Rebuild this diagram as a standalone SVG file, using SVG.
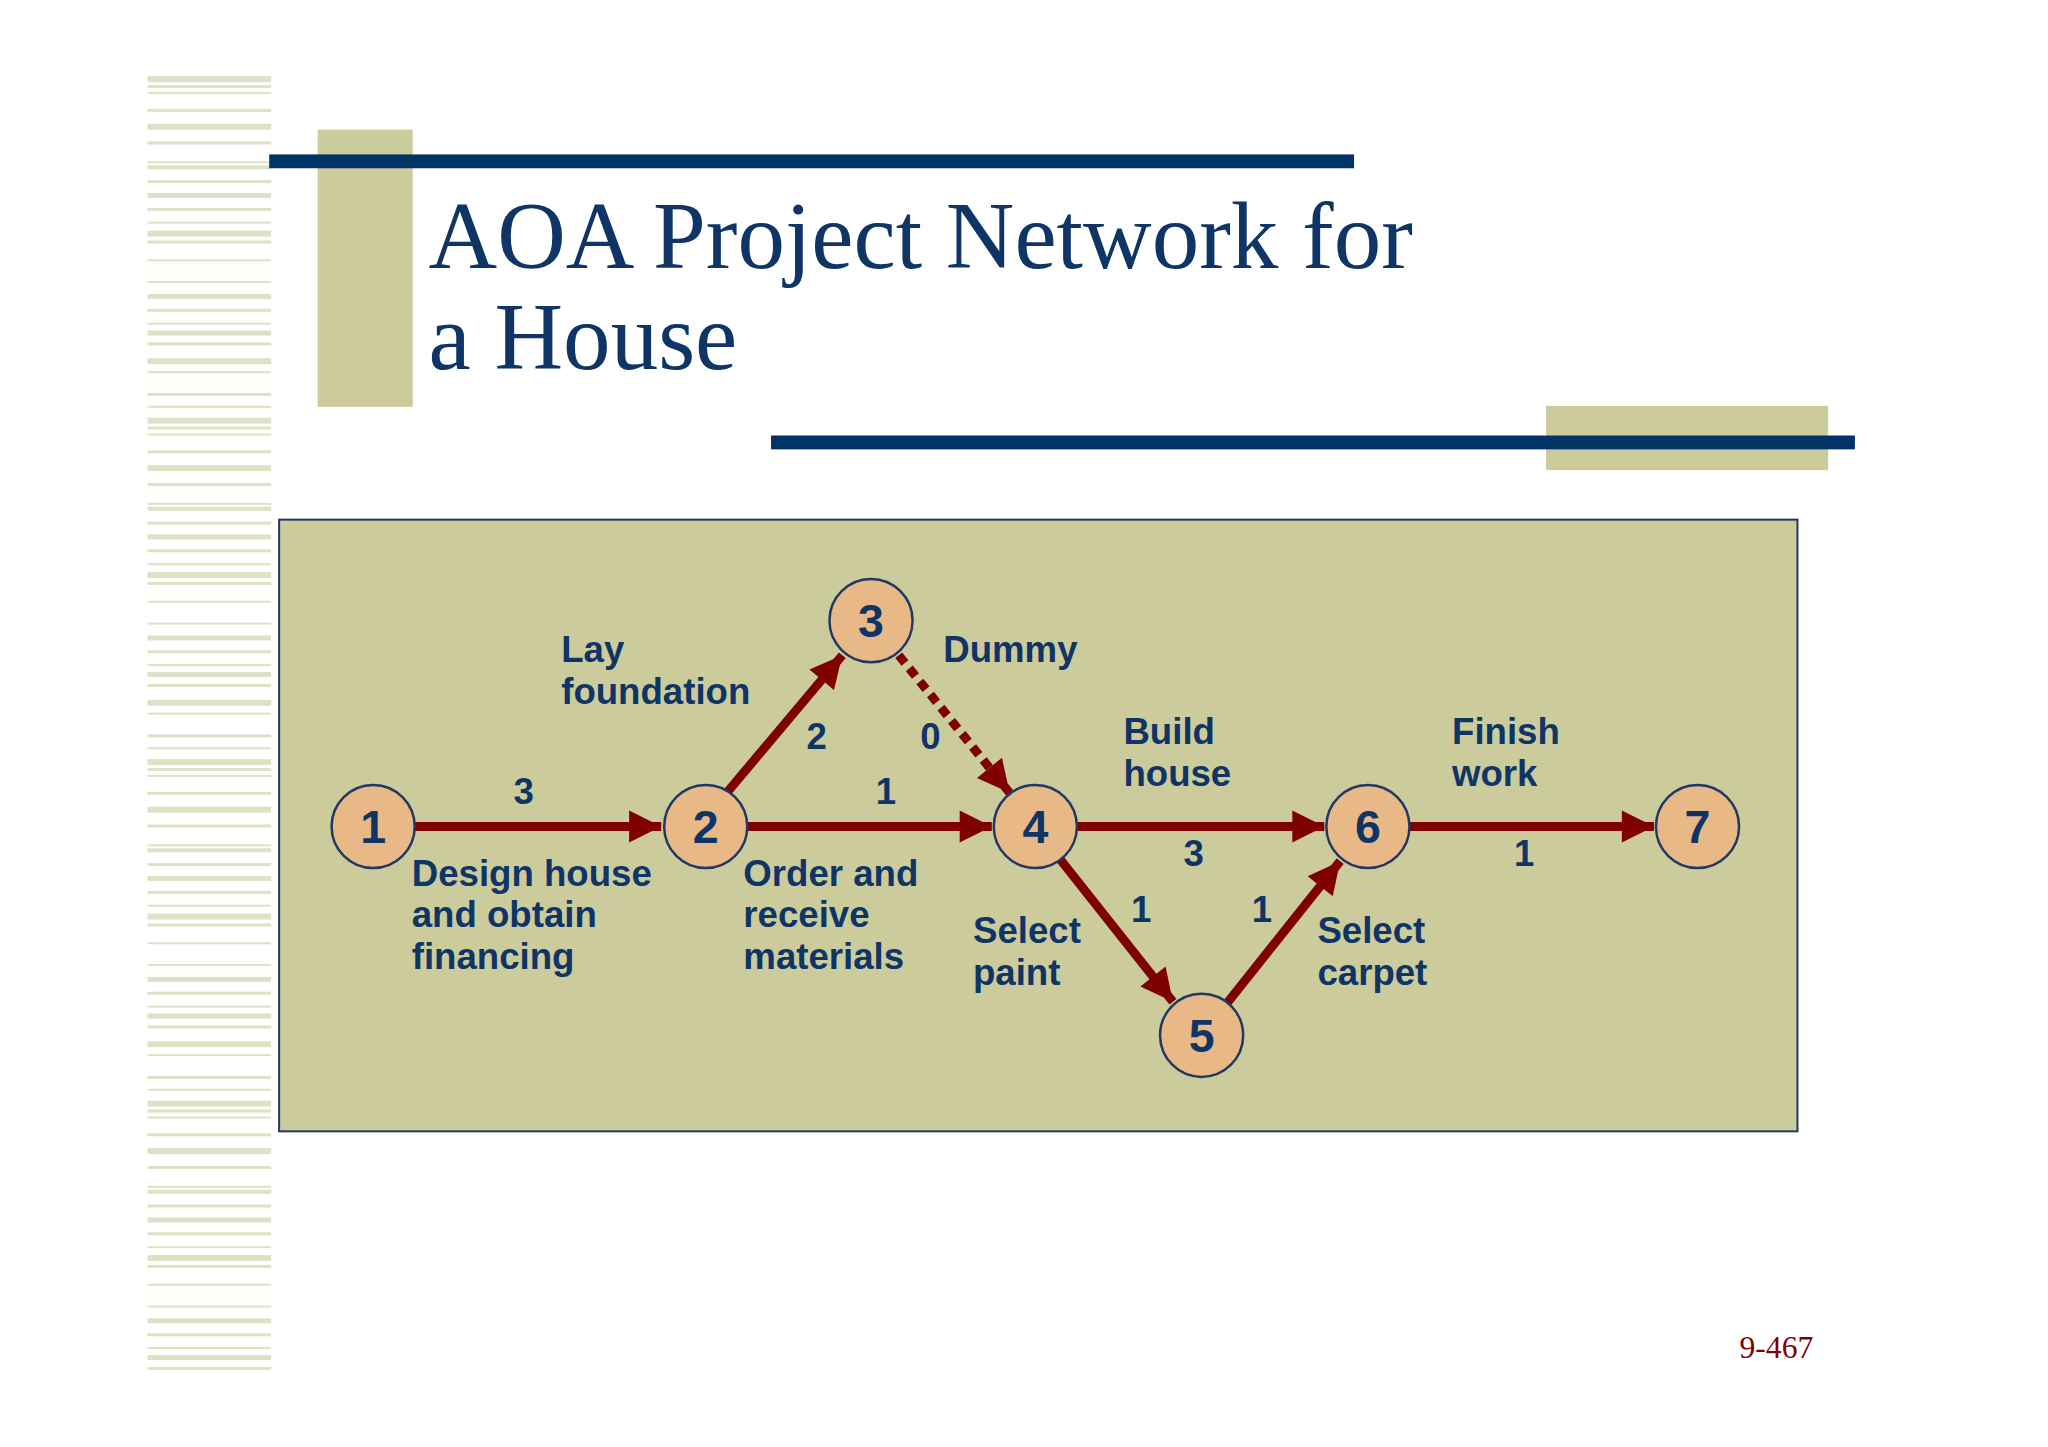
<svg xmlns="http://www.w3.org/2000/svg" width="2048" height="1447" viewBox="0 0 2048 1447">
<defs>
<style>
.lbl{font-family:"Liberation Sans",Arial,sans-serif;font-weight:bold;font-size:37px;fill:#0f3566}
.num{font-family:"Liberation Sans",Arial,sans-serif;font-weight:bold;font-size:47px;fill:#0f3566;text-anchor:middle}
.node circle{fill:#e8b887;stroke:#1f3864;stroke-width:2.5}
.edge{stroke:#7f0000;stroke-width:9;fill:none}
.stripe{fill:#dfe0c4}
</style>
<marker id="ah" viewBox="0 0 10 10" refX="10" refY="5" markerWidth="3.8" markerHeight="3.6" orient="auto" markerUnits="strokeWidth">
<path d="M0,0 L10,5 L0,10 z" fill="#7f0000"/>
</marker>
<g id="sp">
<rect class="stripe" x="149" y="77" width="125" height="6"/><rect class="stripe" x="149" y="86" width="125" height="3"/><rect class="stripe" x="149" y="93" width="125" height="2"/>
<rect class="stripe" x="149" y="110" width="125" height="3"/><rect class="stripe" x="149" y="125" width="125" height="6"/><rect class="stripe" x="149" y="143" width="125" height="3"/>
<rect class="stripe" x="149" y="163" width="125" height="2"/><rect class="stripe" x="149" y="167" width="125" height="4"/><rect class="stripe" x="149" y="182" width="125" height="3"/>
<rect class="stripe" x="149" y="195" width="125" height="5"/><rect class="stripe" x="149" y="210" width="125" height="3"/><rect class="stripe" x="149" y="224" width="125" height="2"/>
<rect class="stripe" x="149" y="233" width="125" height="6"/><rect class="stripe" x="149" y="243" width="125" height="3"/><rect class="stripe" x="149" y="262" width="125" height="2"/>
<rect class="stripe" x="149" y="284" width="125" height="2"/><rect class="stripe" x="149" y="297" width="125" height="5"/><rect class="stripe" x="149" y="312" width="125" height="3"/>
<rect class="stripe" x="149" y="326" width="125" height="2"/><rect class="stripe" x="149" y="334" width="125" height="5"/><rect class="stripe" x="149" y="346" width="125" height="3"/>
<rect class="stripe" x="149" y="362" width="125" height="6"/><rect class="stripe" x="149" y="375" width="125" height="2"/><rect class="stripe" x="149" y="397" width="125" height="3"/>
<rect class="stripe" x="149" y="410" width="125" height="2"/>
</g>
</defs>
<rect width="2048" height="1447" fill="#ffffff"/>
<g transform="scale(0.9898)">
<g id="stripes">
<use href="#sp"/>
<use href="#sp" transform="translate(0,345)"/>
<use href="#sp" transform="translate(0,690)"/>
<use href="#sp" transform="translate(0,1035)" clip-path="none"/>
</g>
<rect x="140" y="1395" width="140" height="60" fill="#ffffff"/>
<g id="title">
<rect x="321" y="131" width="96" height="280" fill="#cccb9b"/>
<rect x="272" y="156" width="1096" height="14" fill="#003366"/>
<rect x="1562" y="410" width="285" height="65" fill="#cccb9b"/>
<rect x="779" y="440" width="1095" height="14" fill="#003366"/>
<text x="433" y="271" font-family="'Liberation Serif','Times New Roman',serif" font-size="96" fill="#0f3566">AOA Project Network for</text>
<text x="433" y="373" font-family="'Liberation Serif','Times New Roman',serif" font-size="96" fill="#0f3566">a House</text>
</g>
<rect id="panel" x="282" y="525" width="1534" height="618" fill="#cccb9b" stroke="#1f3864" stroke-width="2"/>
<g id="connectors">
<line class="edge" x1="419" y1="835" x2="668" y2="835" marker-end="url(#ah)"/>
<line class="edge" x1="735" y1="800" x2="851" y2="662" marker-end="url(#ah)"/>
<line class="edge" x1="755" y1="835" x2="1002" y2="835" marker-end="url(#ah)"/>
<line class="edge" x1="908" y1="662" x2="1020" y2="801" marker-end="url(#ah)" stroke-dasharray="10,7"/>
<line class="edge" x1="1088" y1="835" x2="1338" y2="835" marker-end="url(#ah)"/>
<line class="edge" x1="1071" y1="868" x2="1185" y2="1012" marker-end="url(#ah)"/>
<line class="edge" x1="1240" y1="1013" x2="1354" y2="870" marker-end="url(#ah)"/>
<line class="edge" x1="1424" y1="835" x2="1671" y2="835" marker-end="url(#ah)"/>
</g>
<g id="n1" class="node"><circle cx="377" cy="835" r="42"/><text class="num" x="377" y="852">1</text></g>
<g id="n2" class="node"><circle cx="713" cy="835" r="42"/><text class="num" x="713" y="852">2</text></g>
<g id="n3" class="node"><circle cx="880" cy="627" r="42"/><text class="num" x="880" y="644">3</text></g>
<g id="n4" class="node"><circle cx="1046" cy="835" r="42"/><text class="num" x="1046" y="852">4</text></g>
<g id="n5" class="node"><circle cx="1214" cy="1046" r="42"/><text class="num" x="1214" y="1063">5</text></g>
<g id="n6" class="node"><circle cx="1382" cy="835" r="42"/><text class="num" x="1382" y="852">6</text></g>
<g id="n7" class="node"><circle cx="1715" cy="835" r="42"/><text class="num" x="1715" y="852">7</text></g>
<g id="labels">
<text class="lbl" x="529" y="812" text-anchor="middle">3</text>
<text class="lbl" x="416" y="895">Design house</text><text class="lbl" x="416" y="937">and obtain</text><text class="lbl" x="416" y="979">financing</text>
<text class="lbl" x="567" y="669">Lay</text><text class="lbl" x="567" y="711">foundation</text>
<text class="lbl" x="825" y="757" text-anchor="middle">2</text>
<text class="lbl" x="940" y="757" text-anchor="middle">0</text>
<text class="lbl" x="953" y="669">Dummy</text>
<text class="lbl" x="895" y="812" text-anchor="middle">1</text>
<text class="lbl" x="751" y="895">Order and</text><text class="lbl" x="751" y="937">receive</text><text class="lbl" x="751" y="979">materials</text>
<text class="lbl" x="1135" y="752">Build</text><text class="lbl" x="1135" y="794">house</text>
<text class="lbl" x="1206" y="875" text-anchor="middle">3</text>
<text class="lbl" x="983" y="953">Select</text><text class="lbl" x="983" y="995">paint</text>
<text class="lbl" x="1153" y="931" text-anchor="middle">1</text>
<text class="lbl" x="1275" y="931" text-anchor="middle">1</text>
<text class="lbl" x="1331" y="953">Select</text><text class="lbl" x="1331" y="995">carpet</text>
<text class="lbl" x="1467" y="752">Finish</text><text class="lbl" x="1467" y="794">work</text>
<text class="lbl" x="1540" y="875" text-anchor="middle">1</text>
</g>
<text x="1832" y="1372" text-anchor="end" font-family="'Liberation Serif','Times New Roman',serif" font-size="32" fill="#7f0000">9-467</text>
</g>
</svg>
